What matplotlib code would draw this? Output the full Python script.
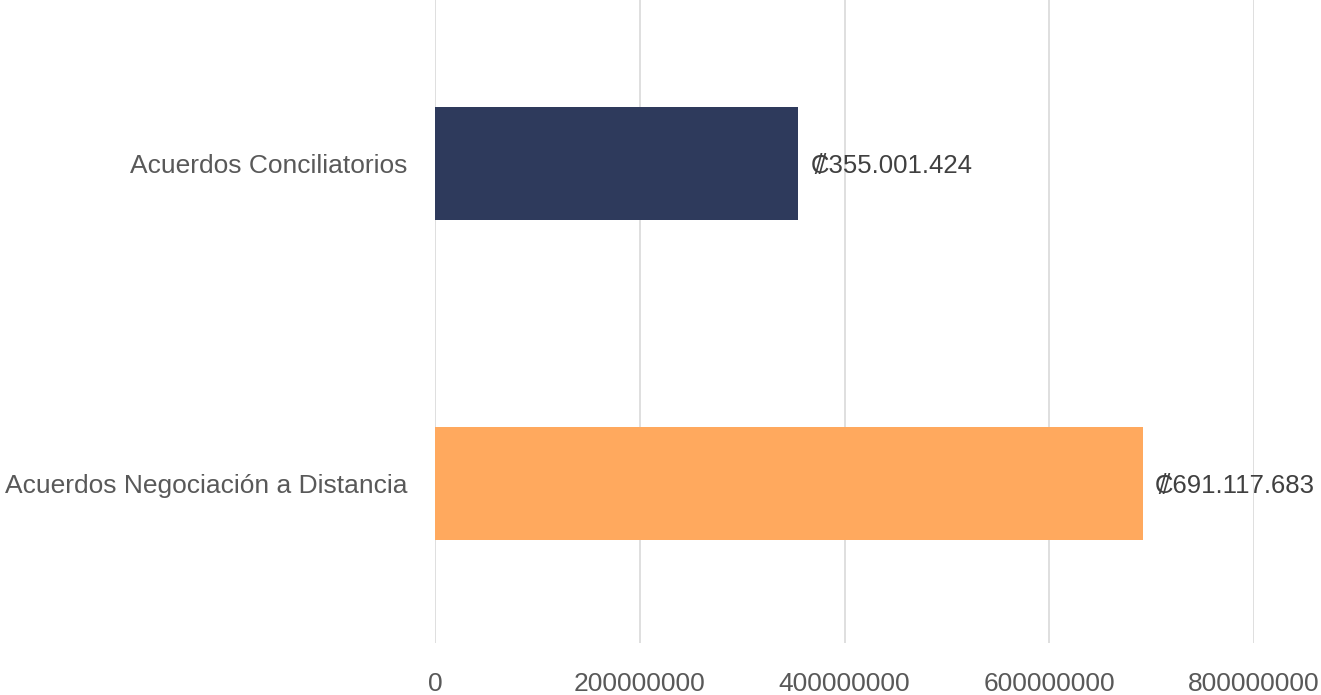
import matplotlib
matplotlib.use("Agg")
import matplotlib.pyplot as plt

categorias = ["Acuerdos Conciliatorios", "Acuerdos Negociación a Distancia"]
montos = [355001424, 691117683]
etiquetas = ["₡355.001.424", "₡691.117.683"]
colores = ["#2E3A5C", "#FFA95E"]
ticks_x = [0, 200000000, 400000000, 600000000, 800000000]

plt.rcParams["font.family"] = ["Liberation Sans", "DejaVu Sans"]

fig = plt.figure(figsize=(13.21, 6.95), dpi=100)
ax = fig.add_axes([435 / 1321, 52 / 695, (1254 - 435) / 1321, 643 / 695])

pos = list(range(len(categorias)))
ax.barh(pos, montos, height=0.353, color=colores, zorder=2)

for p, m, t in zip(pos, montos, etiquetas):
    ax.text(m + 12000000, p + 0.008, t, va="center", ha="left", fontsize=18.5, color="#404040", zorder=1)

ax.set_xlim(0, 800000000)
ax.set_ylim(1.5, -0.51)
ax.set_xticks(ticks_x)
ax.set_xticklabels([str(v) for v in ticks_x])
ax.set_yticks(pos)
ax.set_yticklabels(categorias)
ax.tick_params(axis="x", length=0, pad=21, labelsize=19, labelcolor="#595959")
ax.tick_params(axis="y", length=0, pad=20, labelsize=19, labelcolor="#595959")
ax.grid(axis="x", color="#D9D9D9", linewidth=1.2, zorder=0)
ax.set_axisbelow(True)
for s in ax.spines.values():
    s.set_visible(False)

fig.savefig("out.png", dpi=100)
